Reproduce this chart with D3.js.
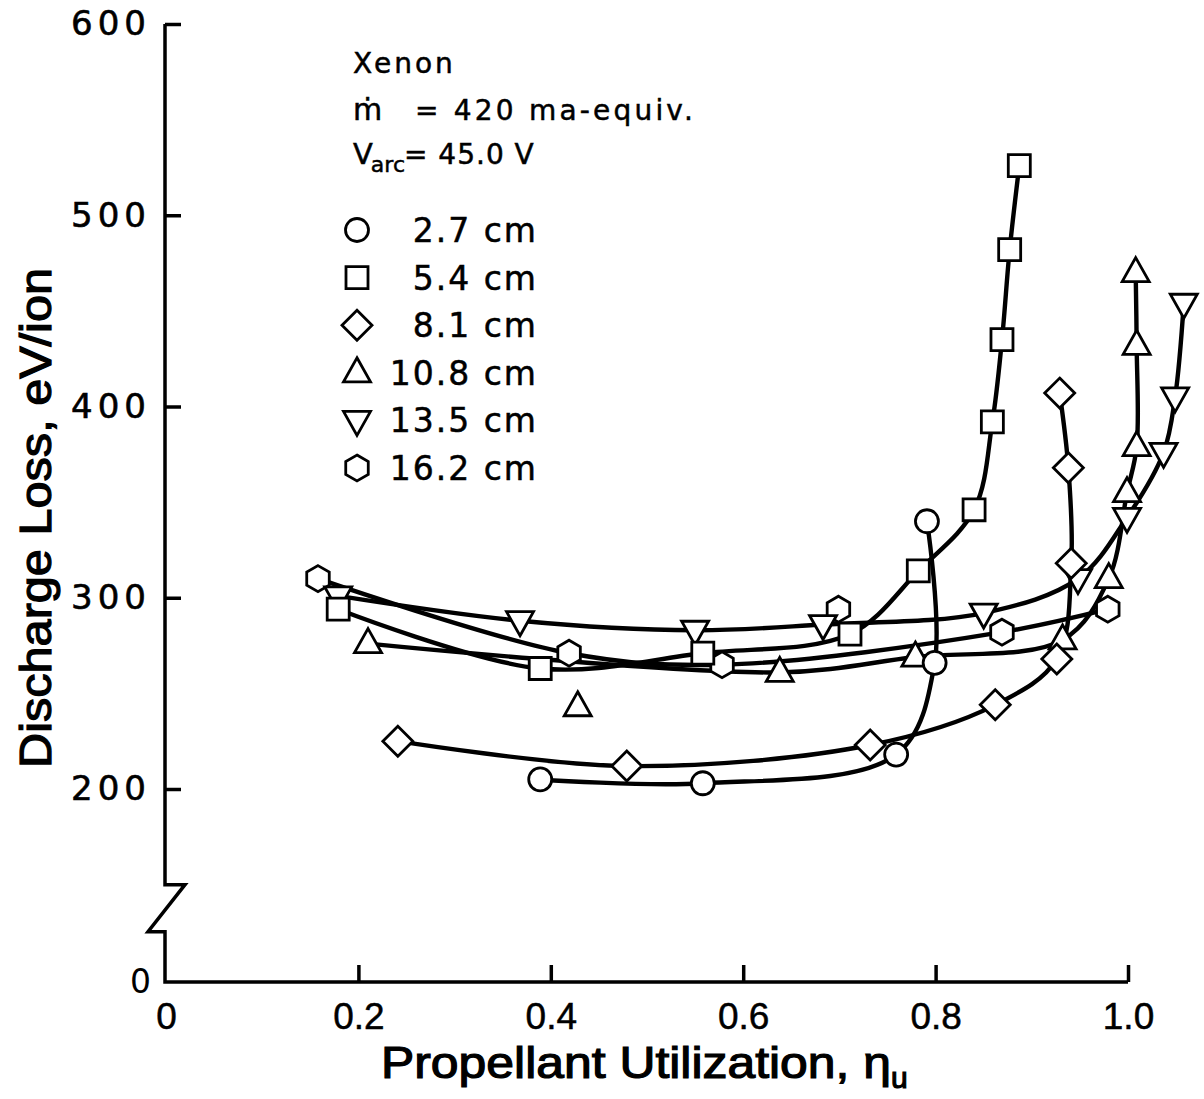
<!DOCTYPE html>
<html><head><meta charset="utf-8">
<script src="https://cdn.jsdelivr.net/npm/d3@7"></script>
<style>body{margin:0;background:#fff}svg{display:block}</style>
</head><body>
<svg id="c" width="1204" height="1099"></svg>
<script>
// ---------- data ----------
const seriesLabels = ["2.7 cm", "5.4 cm", "8.1 cm", "10.8 cm", "13.5 cm", "16.2 cm"];
const seriesSymbols = ["circle", "square", "diamond", "triangle", "invtriangle", "hexagon"];

const x27 = [0.389, 0.558, 0.759, 0.799, 0.791];
const y27 = [205, 203, 218, 266, 340];

const x54 = [0.179, 0.389, 0.558, 0.711, 0.782, 0.840, 0.859, 0.869, 0.877, 0.887];
const y54 = [294, 263, 271, 281, 314, 346, 392, 435, 482, 526];

const x81 = [0.241, 0.479, 0.732, 0.862, 0.926, 0.941, 0.938, 0.929];
const y81 = [225, 212, 223, 244, 268, 318, 368, 407];

const x108 = [0.210, 0.428, 0.638, 0.779, 0.932, 0.980, 0.999, 1.009, 1.009, 1.008];
const y108 = [276, 243, 261, 269, 278, 310, 355, 379, 432, 470];
const off108 = [1];           // plotted point not on the faired curve

const x135 = [0.179, 0.368, 0.550, 0.683, 0.850, 0.948, 0.999, 1.037, 1.049, 1.058];
const y135 = [301, 288, 283, 286, 292, 310, 342, 376, 405, 454];

const x162 = [0.158, 0.419, 0.578, 0.699, 0.869, 0.979];
const y162 = [310, 271, 265, 294, 282, 294];
const off162 = [3];

const xTicks = [0, 0.2, 0.4, 0.6, 0.8, 1.0];
const xTickLabels = ["0", "0.2", "0.4", "0.6", "0.8", "1.0"];
const yTicks = [200, 300, 400, 500, 600];
const yTickLabels = ["200", "300", "400", "500", "600"];
const yZeroLabel = "0";

const infoLines = ["Xenon", "420 ma-equiv.", "45.0 V"];

// ---------- layout ----------
const svg = d3.select("#c");
svg.append("rect").attr("width", 1204).attr("height", 1099).attr("fill", "#fff");
const x = d3.scaleLinear().domain([0, 1]).range([166, 1128]);
const y = d3.scaleLinear().domain([200, 600]).range([789, 24]);
const axisX = 165, axisYpos = 982;

const series = [
  {xs: x27, ys: y27, off: []},
  {xs: x54, ys: y54, off: []},
  {xs: x81, ys: y81, off: []},
  {xs: x108, ys: y108, off: off108},
  {xs: x135, ys: y135, off: []},
  {xs: x162, ys: y162, off: off162}
].map((s, i) => ({
  label: seriesLabels[i], sym: seriesSymbols[i],
  pts: s.xs.map((v, j) => ({x: v, y: s.ys[j], on: !s.off.includes(j)}))
}));

// ---------- symbols ----------
function symPath(t) {
  switch (t) {
    case "circle": return d3.symbol(d3.symbolCircle, Math.PI * 11.5 * 11.5)();
    case "square": return "M-11,-11H11V11H-11Z";
    case "diamond": return "M0,-15L15,0L0,15L-15,0Z";
    case "triangle": return "M0,-15L13.5,9L-13.5,9Z";
    case "invtriangle": return "M0,15L13.5,-9L-13.5,-9Z";
    case "hexagon": {
      const r = 13;
      return d3.range(6).map(k => {
        const a = (-90 + 60 * k) * Math.PI / 180;
        return (k ? "L" : "M") + (r * Math.cos(a)).toFixed(2) + "," + (r * Math.sin(a)).toFixed(2);
      }).join("") + "Z";
    }
  }
}

// ---------- axes ----------
const yAx = d3.axisLeft(y).tickValues(yTicks).tickFormat((d, i) => yTickLabels[i])
  .tickSizeInner(-16).tickSizeOuter(0).tickPadding(14);
const gy = svg.append("g").attr("transform", `translate(${axisX},0)`).call(yAx);
gy.select(".domain").remove();
gy.selectAll(".tick line").attr("stroke", "#000").attr("stroke-width", 3.5);
gy.selectAll(".tick text").attr("font-family", "DejaVu Sans").attr("font-size", 34)
  .attr("letter-spacing", 5).attr("fill", "#000").attr("stroke", "#000").attr("stroke-width", 0.6);

const xAx = d3.axisBottom(x).tickValues(xTicks).tickFormat((d, i) => xTickLabels[i])
  .tickSizeInner(-17).tickSizeOuter(0).tickPadding(21);
const gx = svg.append("g").attr("transform", `translate(0,${axisYpos})`).call(xAx);
gx.select(".domain").remove();
gx.selectAll(".tick line").attr("stroke", "#000").attr("stroke-width", 3.5)
  .attr("display", d => d === 0 ? "none" : null);
gx.selectAll(".tick text").attr("font-family", "Liberation Sans").attr("font-size", 37).attr("fill", "#000")
  .attr("stroke", "#000").attr("stroke-width", 0.5);

// axis frame with break
const yBreak = y(150);
svg.append("path")
  .attr("d", `M${axisX},${y(600)}V${yBreak}H${axisX + 20}L${axisX - 17},${yBreak + 47}H${axisX}V${axisYpos}H${x(1)}`)
  .attr("fill", "none").attr("stroke", "#000").attr("stroke-width", 3.5).attr("stroke-linejoin", "miter");

svg.append("text").attr("x", axisX - 14).attr("y", axisYpos + 11).attr("text-anchor", "end")
  .attr("font-family", "DejaVu Sans").attr("font-size", 33).text(yZeroLabel);

// ---------- titles ----------
svg.append("text").attr("transform", "translate(51,518) rotate(-90)").attr("text-anchor", "middle")
  .attr("font-family", "Liberation Sans Narrow, Liberation Sans").attr("font-size", 44)
  .attr("stroke", "#000").attr("stroke-width", 1.2)
  .attr("textLength", 500).attr("lengthAdjust", "spacingAndGlyphs")
  .text("Discharge Loss, eV/ion");

const xt = svg.append("text").attr("x", 381).attr("y", 1078)
  .attr("font-family", "Liberation Sans Narrow, Liberation Sans").attr("font-size", 44)
  .attr("stroke", "#000").attr("stroke-width", 1.2);
xt.append("tspan").attr("textLength", 510).attr("lengthAdjust", "spacingAndGlyphs").text("Propellant Utilization, η");
xt.append("tspan").attr("font-size", 30).attr("dy", 10).text("u");

// ---------- curves ----------
const line = d3.line().x(d => x(d.x)).y(d => y(d.y)).curve(d3.curveCatmullRom.alpha(0.5));
svg.append("g").selectAll("path").data(series).join("path")
  .attr("d", s => line(s.pts.filter(p => p.on)))
  .attr("fill", "none").attr("stroke", "#000").attr("stroke-width", 4.4).attr("stroke-linecap", "round");

// ---------- markers ----------
const order = [5, 4, 3, 2, 1, 0];
const mg = svg.append("g");
order.forEach(i => {
  const s = series[i];
  mg.append("g").selectAll("path").data(s.pts).join("path")
    .attr("transform", d => `translate(${x(d.x)},${y(d.y)})`)
    .attr("d", symPath(s.sym))
    .attr("fill", "#fff").attr("stroke", "#000").attr("stroke-width", 2.8);
});

// ---------- legend / info ----------
const info = svg.append("g").attr("font-family", "DejaVu Sans").attr("fill", "#000")
  .attr("stroke", "#000").attr("stroke-width", 0.5);
info.append("text").attr("x", 353).attr("y", 73).attr("font-size", 28).attr("letter-spacing", 3).text(infoLines[0]);
info.append("text").attr("x", 353).attr("y", 120).attr("font-size", 30).text("ṁ");
info.append("text").attr("x", 415).attr("y", 120).attr("font-size", 28).attr("letter-spacing", 3.2).text("= " + infoLines[1]);
const vt = info.append("text").attr("x", 353).attr("y", 164).attr("font-size", 29);
vt.append("tspan").text("V");
vt.append("tspan").attr("font-size", 22).attr("dy", 8).attr("dx", -2).text("arc");
info.append("text").attr("x", 404).attr("y", 164).attr("font-size", 28).attr("letter-spacing", 1).text("= " + infoLines[2]);

const lg = svg.append("g");
series.forEach((s, i) => {
  const cy = 230 + i * 47.6;
  lg.append("path").attr("transform", `translate(357,${cy})`).attr("d", symPath(s.sym))
    .attr("fill", "#fff").attr("stroke", "#000").attr("stroke-width", 2.8);
  lg.append("text").attr("x", 538).attr("y", cy + 12).attr("text-anchor", "end")
    .attr("font-family", "DejaVu Sans").attr("font-size", 33).attr("letter-spacing", 2)
    .attr("stroke", "#000").attr("stroke-width", 0.5)
    .text(s.label);
});
</script>
</body></html>
